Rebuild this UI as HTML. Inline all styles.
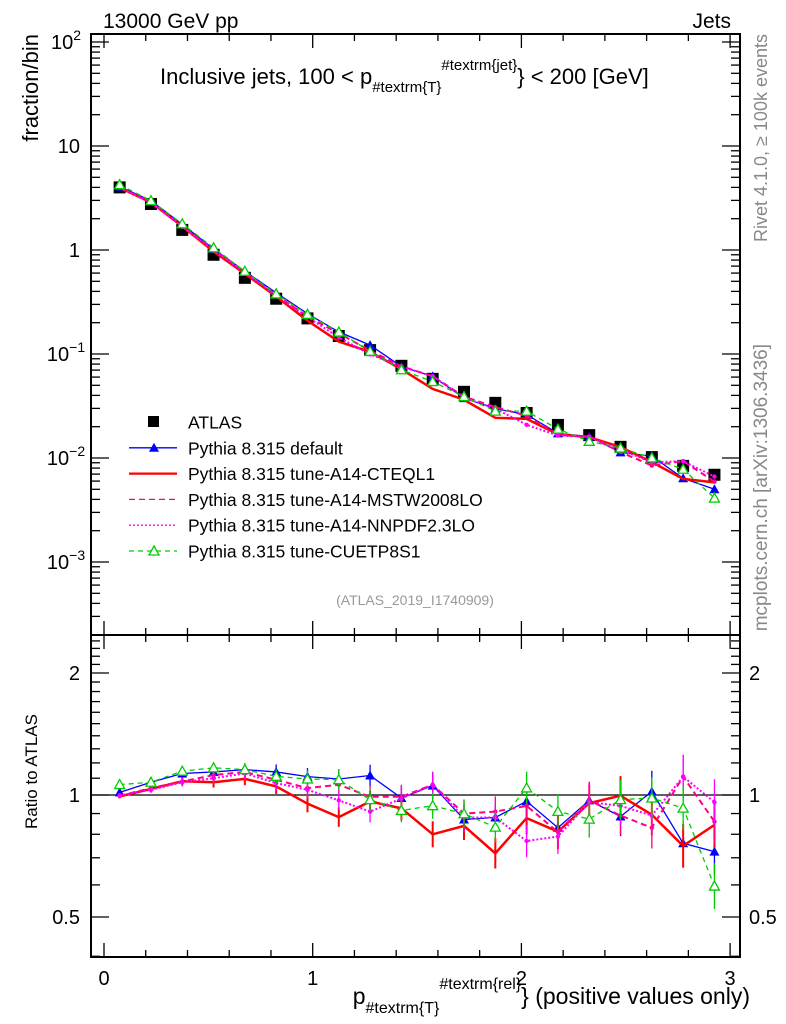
<!DOCTYPE html>
<html><head><meta charset="utf-8"><style>
html,body{margin:0;padding:0;background:#fff}
svg{display:block;font-family:"Liberation Sans",sans-serif}
</style></head><body>
<svg id="c" width="786" height="1024" viewBox="0 0 786 1024"></svg>
<script>
const bins=[0.075,0.225,0.375,0.525,0.675,0.825,0.975,1.125,1.275,1.425,1.575,1.725,1.875,2.025,2.175,2.325,2.475,2.625,2.775,2.925];
const atlas=[4.0,2.77,1.56,0.90,0.54,0.34,0.22,0.149,0.109,0.077,0.0577,0.0433,0.0339,0.0271,0.0208,0.0166,0.0128,0.0102,0.0084,0.0069];
const rDefault=[1.015,1.075,1.13,1.14,1.155,1.14,1.11,1.095,1.117,0.983,1.055,0.87,0.88,0.965,0.83,0.97,0.885,1.02,0.76,0.725];
const rCteq=[0.992,1.035,1.081,1.075,1.096,1.05,0.952,0.882,0.964,0.927,0.80,0.839,0.718,0.877,0.812,0.955,0.996,0.894,0.749,0.844];
const rMstw=[0.995,1.04,1.08,1.12,1.14,1.09,1.04,1.06,0.99,0.99,1.06,0.90,0.91,0.94,0.81,0.97,0.89,0.83,1.11,0.86];
const rNnpdf=[0.998,1.03,1.075,1.10,1.13,1.07,1.03,0.97,0.91,0.98,1.06,0.88,0.88,0.77,0.79,0.96,0.94,0.89,1.11,0.96];
const rCuetp=[1.061,1.075,1.145,1.167,1.155,1.112,1.095,1.091,0.974,0.916,0.941,0.899,0.833,1.041,0.911,0.872,0.974,0.983,0.928,0.596];
const xTicks=[0,1,2,3];
const ratioTicks=[0.5,1,2];

const S=document.getElementById('c');const NS='http://www.w3.org/2000/svg';
function el(t,a,p){const e=document.createElementNS(NS,t);for(const k in a)e.setAttribute(k,a[k]);(p||S).appendChild(e);return e;}
const L=91,R=740,T1=34,B1=635,T2=635,B2=957;
const X=v=>104+v*208.7;
const Y=v=>250-104*Math.log10(v);
const YR=v=>795-122*Math.log2(v);
const series=[
 {name:'default',r:rDefault,c:'#0000ff',w:1.3,d:'',m:'tri'},
 {name:'cteql1',r:rCteq,c:'#ff0000',w:2.5,d:'',m:'none'},
 {name:'mstw',r:rMstw,c:'#ff0080',w:2,d:'6,4',m:'dot'},
 {name:'nnpdf',r:rNnpdf,c:'#ff00ff',w:2,d:'2,2',m:'dot'},
 {name:'cuetp',r:rCuetp,c:'#00cc00',w:1.3,d:'5,4',m:'otri'}];
function txt(x,y,s,a,n){const t=el('text',Object.assign({x:x,y:y,'font-size':a.fs||20,fill:a.fill||'#000','text-anchor':a.anchor||'start'},a.tr?{transform:a.tr}:{}));t.textContent=s;return t;}
function marker(x,y,s,g){
 if(s.m==='tri')el('path',{d:`M${x-5},${y+4}L${x+5},${y+4}L${x},${y-5}Z`,fill:s.c},g);
 else if(s.m==='otri')el('path',{d:`M${x-5},${y+4}L${x+5},${y+4}L${x},${y-5}Z`,fill:'#fff',stroke:s.c,'stroke-width':1.3},g);
 else if(s.m==='dot')el('circle',{cx:x,cy:y,r:2.2,fill:s.c},g);
}
for(const [t,b,n] of [[T1,B1,'main-panel-frame'],[T2,B2,'ratio-panel-frame']]){const r=el('rect',{x:L,y:t,width:R-L,height:b-t,fill:'none',stroke:'#000','stroke-width':2});}
for(const [t,b] of [[T1,B1],[T2,B2]]){
 for(let v=0;v<=3.0001;v+=0.2){const big=Math.abs(v-Math.round(v))<1e-6;const len=big?14:7;const x=X(v);
  el('line',{x1:x,x2:x,y1:b,y2:b-len,stroke:'#000','stroke-width':1.3});el('line',{x1:x,x2:x,y1:t,y2:t+len,stroke:'#000','stroke-width':1.3});}
}
xTicks.forEach(v=>txt(X(v),985,String(v),{anchor:'middle'},'x-tick-label'));
const ylab=[['10','2',Y(100)],['10','',Y(10)],['1','',Y(1)],['10','−1',Y(0.1)],['10','−2',Y(0.01)],['10','−3',Y(0.001)]];
for(let e=-4;e<=2;e++){for(let k=1;k<10;k++){const v=k*Math.pow(10,e);const y=Y(v);if(y<T1||y>B1)continue;const len=k===1?18:9;
 el('line',{x1:L,x2:L+len,y1:y,y2:y,stroke:'#000','stroke-width':1.3});el('line',{x1:R,x2:R-len,y1:y,y2:y,stroke:'#000','stroke-width':1.3});}}
ylab.forEach(([b,s,y])=>{const t=el('text',{x:s?66:80,y:y+7,'font-size':20,'text-anchor':s?'middle':'end'});t.textContent=b;if(s){const ts=el('tspan',{dy:-9,'font-size':14},t);ts.textContent=s;}});
for(let v=0.4;v<=2.5;v+=0.1){const y=YR(v);if(y<T2||y>B2)continue;const big=[0.5,1,2].some(q=>Math.abs(q-v)<1e-6);const len=big?18:9;
 el('line',{x1:L,x2:L+len,y1:y,y2:y,stroke:'#000','stroke-width':1.3});el('line',{x1:R,x2:R-len,y1:y,y2:y,stroke:'#000','stroke-width':1.3});}
ratioTicks.forEach(v=>{txt(80,YR(v)+7,String(v),{anchor:'end'},'ratio-tick-label-left');txt(749,YR(v)+7,String(v),{},'ratio-tick-label-right');});
el('line',{x1:L,x2:R,y1:YR(1),y2:YR(1),stroke:'#000','stroke-width':1.3});
const gA=el('g',{});
atlas.forEach((v,i)=>{const r=el('rect',{x:X(bins[i])-6,y:Y(v)-6,width:12,height:12,fill:'#000'},gA);});
series.forEach(s=>{
 const g=el('g',{});
 const pts=s.r.map((r,i)=>[X(bins[i]),Y(atlas[i]*r)]);
 el('polyline',{points:pts.map(p=>p.join(',')).join(' '),fill:'none',stroke:s.c,'stroke-width':s.w,'stroke-dasharray':s.d},g);
 pts.forEach(p=>marker(p[0],p[1],s,g));
 const g2=el('g',{});
 const rp=s.r.map((r,i)=>[X(bins[i]),YR(r)]);
 el('polyline',{points:rp.map(p=>p.join(',')).join(' '),fill:'none',stroke:s.c,'stroke-width':s.w,'stroke-dasharray':s.d},g2);
 rp.forEach((p,i)=>{const e=2+i*1.1;el('line',{x1:p[0],x2:p[0],y1:p[1]-e,y2:p[1]+e,stroke:s.c,'stroke-width':s.w>2?2:1.3},g2);marker(p[0],p[1],s,g2);});
});
const leg=[['ATLAS',null],['Pythia 8.315 default',series[0]],['Pythia 8.315 tune-A14-CTEQL1',series[1]],['Pythia 8.315 tune-A14-MSTW2008LO',series[2]],['Pythia 8.315 tune-A14-NNPDF2.3LO',series[3]],['Pythia 8.315 tune-CUETP8S1',series[4]]];
leg.forEach(([n,s],i)=>{const y=422+i*25.8;const g=el('g',{});
 if(!s)el('rect',{x:148,y:y-6,width:11,height:11,fill:'#000'},g);
 else{el('line',{x1:129,x2:177,y1:y,y2:y,stroke:s.c,'stroke-width':s.w>2?2.2:1.3,'stroke-dasharray':s.d},g);if(s.m!=='dot')marker(154,y,s,g);}
 const t=el('text',{x:188,y:y+6.5,'font-size':17.5},g);t.textContent=n;});
txt(103,28,'13000 GeV pp',{fs:21},'header-left');
txt(731,28,'Jets',{anchor:'end',fs:21},'header-right');
const tt=el('text',{x:160,y:84,'font-size':22});
tt.innerHTML='Inclusive jets, 100 &lt; p<tspan dy="8" font-size="15">#textrm{T}</tspan><tspan dy="-22" font-size="15">#textrm{jet}</tspan><tspan dy="14">} &lt; 200 [GeV]</tspan>';
txt(415,605,'(ATLAS_2019_I1740909)',{fs:14,fill:'#999',anchor:'middle'},'analysis-id');
txt(0,0,'fraction/bin',{anchor:'end',tr:'translate(38,34) rotate(-90)',fs:22},'y-axis-title');
txt(0,0,'Ratio to ATLAS',{anchor:'end',tr:'translate(37,714) rotate(-90)',fs:17},'ratio-axis-title');
txt(0,0,'Rivet 4.1.0, ≥ 100k events',{anchor:'end',tr:'translate(767,34) rotate(-90)',fs:18,fill:'#888'},'rivet-label');
txt(0,0,'mcplots.cern.ch [arXiv:1306.3436]',{anchor:'end',tr:'translate(767,344) rotate(-90)',fs:19,fill:'#888'},'mcplots-label');
const xl=el('text',{x:750,y:1004,'font-size':23,'text-anchor':'end'});
xl.innerHTML='p<tspan dy="9" font-size="16">#textrm{T}</tspan><tspan dy="-24" font-size="16">#textrm{rel}</tspan><tspan dy="15">} (positive values only)</tspan>';
</script>
</body></html>
